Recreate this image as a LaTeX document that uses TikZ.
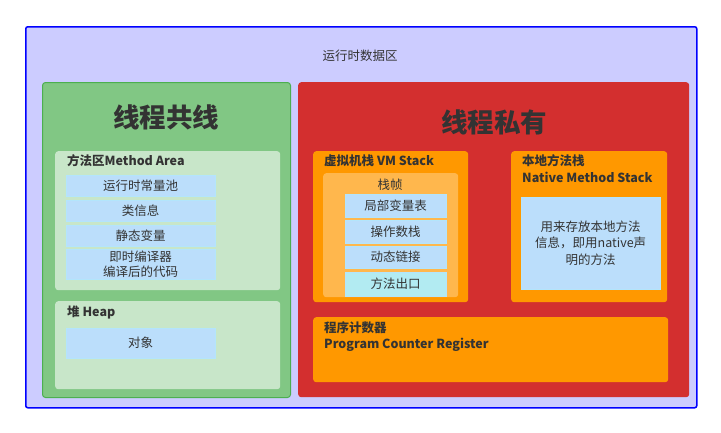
\documentclass[tikz,border=0pt]{standalone}
\usepackage{fontspec}
\setmainfont{Noto Sans CJK SC}
\usetikzlibrary{positioning}
\definecolor{runbg}{HTML}{CCCCFF}
\definecolor{runline}{HTML}{0000FF}
\definecolor{shared}{HTML}{81C784}
\definecolor{sharedline}{HTML}{4CAF50}
\definecolor{sharedin}{HTML}{C8E6C9}
\definecolor{private}{HTML}{D32F2F}
\definecolor{stackbg}{HTML}{FF9800}
\definecolor{framebg}{HTML}{FFB74D}
\definecolor{itembg}{HTML}{BBDEFB}
\definecolor{itemline}{HTML}{B3E5FC}
\definecolor{exitbg}{HTML}{B2EBF2}
\definecolor{ink}{HTML}{333333}

\begin{document}
\begin{tikzpicture}[x=1pt,y=-1pt,
  box/.style={anchor=north west,inner sep=0pt,rounded corners=3pt},
  item/.style={anchor=north west,inner sep=0pt,draw=itemline,fill=itembg,
    text=ink,font=\fontsize{12.5}{14}\selectfont,align=center,minimum width=149pt},
  slot/.style={item,minimum width=101pt},
  big/.style={text=ink,font=\fontsize{26.5}{30}\selectfont\bfseries},
  tag/.style={anchor=north west,inner sep=0pt,text=ink,align=left,
    font=\fontsize{12.5}{16.5}\selectfont\bfseries}
]
\useasboundingbox (0,0) rectangle (721,432);
\fill[white] (0,0) rectangle (721,432);

% outer area
\node[box,draw=runline,line width=1.5pt,fill=runbg,rounded corners=2pt,
  minimum width=671pt,minimum height=381pt] (run) at (25,26) {};
\node[text=ink,font=\fontsize{12.5}{14}\selectfont] (runname) at (360,56) {运行时数据区};

% shared
\node[box,draw=sharedline,line width=1pt,fill=shared,
  minimum width=248pt,minimum height=315pt] (shared) at (42,82) {};
\node[big] (sharedname) at (166,117) {线程共线};
\node[box,fill=sharedin,minimum width=225pt,minimum height=139pt] (method) at (55,151) {};
\node[tag] (methodname) at (67,154.5) {方法区Method Area};
\node[item,minimum height=21pt] (pool) at (66,175) {运行时常量池};
\node[item,minimum height=21pt] (klass) at (66,200) {类信息};
\node[item,minimum height=21pt] (static) at (66,225) {静态变量};
\node[item,minimum height=30pt,font=\fontsize{12.5}{15}\selectfont] (jit) at (66,249) {即时编译器\\编译后的代码};
\node[box,fill=sharedin,minimum width=225pt,minimum height=88pt] (heap) at (55,301) {};
\node[tag] (heapname) at (67,305.5) {堆 Heap};
\node[item,minimum height=30pt] (object) at (66,328) {对象};

% private
\node[box,fill=private,minimum width=391pt,minimum height=315pt] (private) at (298,82) {};
\node[big] (privatename) at (494,122) {线程私有};
\node[box,fill=stackbg,minimum width=155pt,minimum height=151pt] (vm) at (313,151) {};
\node[tag] (vmname) at (324,154.5) {虚拟机栈 VM Stack};
\node[box,fill=framebg,minimum width=135pt,minimum height=124pt] (frame) at (323,173) {};
\node[text=ink,font=\fontsize{12.5}{14}\selectfont] (framename) at (390,185) {栈帧};
\node[slot,minimum height=23pt] (locals) at (345,194) {局部变量表};
\node[slot,minimum height=23pt] (operand) at (345,220) {操作数栈};
\node[slot,minimum height=22pt] (link) at (345,246) {动态链接};
\node[slot,minimum height=24pt,fill=exitbg] (exit) at (345,272) {方法出口};
\node[box,fill=stackbg,minimum width=156pt,minimum height=151pt] (native) at (511,151) {};
\node[tag] (nativename) at (522,154.5) {本地方法栈\\Native Method Stack};
\node[item,minimum width=139pt,minimum height=92pt,font=\fontsize{12.5}{16.5}\selectfont] (nativeinfo) at (521,197) {用来存放本地方法\\信息，即用native声\\明的方法};
\node[box,fill=stackbg,minimum width=355pt,minimum height=65pt] (pc) at (313,317) {};
\node[tag] (pcname) at (324,321) {程序计数器\\Program Counter Register};
\end{tikzpicture}
\end{document}
